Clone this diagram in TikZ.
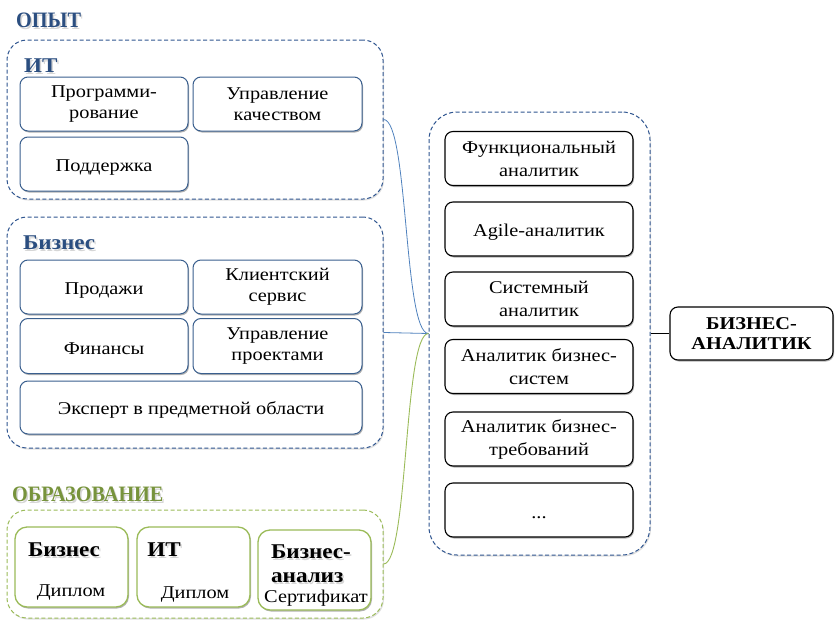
\documentclass[tikz,border=0pt]{standalone}
\usepackage{fontspec}
\setmainfont{Liberation Serif}[FakeStretch=1.13]
\newfontfamily\titlefam{Liberation Serif}[FakeStretch=0.92]
\newfontfamily\widefam{Liberation Serif}[FakeStretch=1.1]
\usetikzlibrary{shadows}
\definecolor{titleblue}{HTML}{2B4E80}
\definecolor{groupblue}{HTML}{2F5590}
\definecolor{boxblue}{HTML}{3A5F8E}
\definecolor{linkblue}{HTML}{4F81BD}
\definecolor{titlegreen}{HTML}{77933C}
\definecolor{linkgreen}{HTML}{9BBB59}
\newcommand{\boxfont}{\fontsize{18}{21}\selectfont}
\newcommand{\rolefont}{\fontsize{18}{23}\selectfont}
\newcommand{\headfont}{\titlefam\fontsize{22}{24}\selectfont\bfseries}
\newcommand{\subheadfont}{\widefam\fontsize{21}{24}\selectfont\bfseries}
\newcommand{\topstrut}{\rule{0pt}{18pt}}
\tikzset{
  softshadow/.style={drop shadow={shadow xshift=1pt,shadow yshift=-1.5pt,opacity=.3,fill=black}},
  faintshadow/.style={drop shadow={shadow xshift=1pt,shadow yshift=-1.5pt,opacity=.12,fill=black}},
  group/.style={draw=groupblue, dash pattern=on 4pt off 2.5pt, line width=1pt,
    rounded corners=20pt, fill=white, faintshadow, inner sep=0pt},
  edugroup/.style={group, draw=linkgreen},
  skill/.style={draw=boxblue, line width=1pt, rounded corners=8pt, fill=white,
    softshadow, align=center, font=\boxfont, inner sep=0pt,
    execute at begin node=\topstrut},
  degree/.style={draw=linkgreen, line width=1.3pt, rounded corners=12pt, fill=white,
    softshadow, inner sep=0pt},
  role/.style={skill, draw=black, line width=1.1pt, font=\rolefont},
  heading/.style={anchor=west, font=\headfont, inner sep=0pt},
  subheading/.style={anchor=west, font=\subheadfont, inner sep=0pt},
  ghost/.style={text=black, opacity=.16},
  edutitle/.style={font=\subheadfont, inner sep=0pt},
  edutext/.style={font=\boxfont, inner sep=0pt},
}
\begin{document}
\begin{tikzpicture}[x=1pt,y=-1pt]
\useasboundingbox (0,0) rectangle (835,621);

% section headings
\node[heading, ghost] at (17.5,22) {ОПЫТ};
\node[heading, text=titleblue] (hExp) at (16,20.5) {ОПЫТ};
\node[heading, ghost] at (13.5,496) {ОБРАЗОВАНИЕ};
\node[heading, text=titlegreen] (hEdu) at (12,494.5) {ОБРАЗОВАНИЕ};

% experience groups
\node[group, minimum width=376pt, minimum height=159pt] (gIT) at (195,119.5) {};
\node[group, minimum width=376pt, minimum height=231pt] (gBiz) at (195,332.5) {};
\node[edugroup, minimum width=376pt, minimum height=108pt] (gEdu) at (195,564) {};

\node[subheading, ghost] at (25.5,67.5) {ИТ};
\node[subheading, text=titleblue] (hIT) at (24,66) {ИТ};
\node[subheading, ghost] at (24.5,244.5) {Бизнес};
\node[subheading, text=titleblue] (hBiz) at (23,243) {Бизнес};

% IT skills
\node[skill, minimum width=168pt, minimum height=54pt] (prog) at (104,104) {Программи-\\рование};
\node[skill, minimum width=169pt, minimum height=54pt] (qa) at (277.5,104) {Управление\\качеством};
\node[skill, minimum width=168pt, minimum height=54pt] (supp) at (104,164) {Поддержка};

% business skills
\node[skill, minimum width=168pt, minimum height=54pt] (sales) at (104,287) {Продажи};
\node[skill, minimum width=169pt, minimum height=54pt] (cs) at (277.5,287) {Клиентский\\сервис};
\node[skill, minimum width=168pt, minimum height=55pt] (fin) at (104,346) {Финансы};
\node[skill, minimum width=169pt, minimum height=55pt] (pm) at (277.5,346) {Управление\\проектами};
\node[skill, minimum width=342pt, minimum height=53pt] (expert) at (191,407.5) {Эксперт в предметной области};

% education
\node[degree, minimum width=113pt, minimum height=80pt] (dBiz) at (71.5,567) {};
\node[degree, minimum width=113pt, minimum height=80pt] (dIT) at (193.5,567) {};
\node[degree, minimum width=113pt, minimum height=80pt] (dBA) at (314.5,570) {};

\node[edutitle, ghost] at (65.5,551.5) {Бизнес};
\node[edutitle] (tBiz) at (64,550) {Бизнес};
\node[edutext] (sBiz) at (71,593) {Диплом};
\node[edutitle, ghost] at (165.5,551.5) {ИТ};
\node[edutitle] (tIT) at (164,550) {ИТ};
\node[edutext] (sIT) at (195,595) {Диплом};
\node[edutitle, ghost, align=left] at (312.5,565.5) {Бизнес-\\анализ};
\node[edutitle, align=left] (tBA) at (311,564) {Бизнес-\\анализ};
\node[edutext] (sBA) at (316,598.5) {Сертификат};

% analyst roles
\node[group, rounded corners=28pt, minimum width=221pt, minimum height=443pt] (roles) at (539.5,333.5) {};
\node[role, minimum width=188pt, minimum height=54pt] (r1) at (539,158.5) {Функциональный\\аналитик};
\node[role, minimum width=188pt, minimum height=54pt] (r2) at (539,229) {Agile-аналитик};
\node[role, minimum width=188pt, minimum height=54pt] (r3) at (539,299) {Системный\\аналитик};
\node[role, minimum width=188pt, minimum height=54pt] (r4) at (539,366.5) {Аналитик бизнес-\\систем};
\node[role, minimum width=188pt, minimum height=54pt] (r5) at (539,439) {Аналитик бизнес-\\требований};
\node[role, minimum width=188pt, minimum height=54pt, execute at begin node={\rule{0pt}{13pt}}] (r6) at (539,510) {...};

\node[role, minimum width=163pt, minimum height=53pt, font=\fontsize{18}{20}\selectfont\bfseries] (ba) at (751.5,333.5) {БИЗНЕС-\\АНАЛИТИК};

% connectors
\draw[linkblue, line width=.8pt] (gIT.east) .. controls +(25,0) and +(-25,0) .. (roles.west);
\draw[linkblue, line width=.8pt] (gBiz.east) -- (roles.west);
\draw[linkgreen, line width=.9pt] (gEdu.east) .. controls +(25,0) and +(-25,0) .. (roles.west);
\draw[black, line width=.8pt] (roles.east) -- (ba.west);
\end{tikzpicture}
\end{document}
